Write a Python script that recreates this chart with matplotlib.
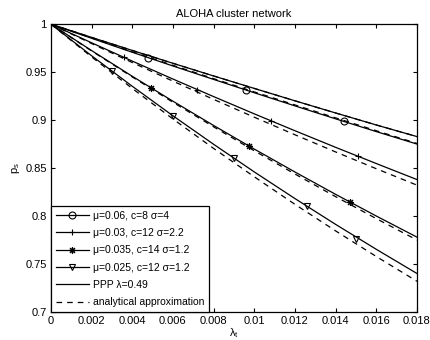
import matplotlib

matplotlib.use("Agg")
import matplotlib.pyplot as plt
from matplotlib.lines import Line2D

plt.rcParams["font.family"] = ["Liberation Sans", "DejaVu Sans"]
plt.rcParams["mathtext.fontset"] = "custom"
plt.rcParams["mathtext.rm"] = "Liberation Sans"
plt.rcParams["mathtext.it"] = "Liberation Sans"

# rejilla de lambda_t para las curvas
lam = [0.0, 0.002, 0.004, 0.006, 0.008, 0.010, 0.012, 0.014, 0.016, 0.018]

# PPP (solido y aproximacion, practicamente iguales)
ppp = [1.0, 0.9862, 0.9726, 0.9592, 0.9460, 0.9330, 0.9201, 0.9074, 0.8949, 0.8828]
ppp_aprox = [1.0, 0.9862, 0.9726, 0.9592, 0.9460, 0.9330, 0.9201, 0.9074, 0.8949, 0.8828]

# cluster: simulacion (solido) y aproximacion analitica (discontinua)
c1 = [1.0, 0.9853, 0.9707, 0.9564, 0.9424, 0.9285, 0.9148, 0.9013, 0.8880, 0.8750]
c1_aprox = [1.0, 0.9856, 0.9712, 0.9571, 0.9432, 0.9294, 0.9158, 0.9023, 0.8889, 0.8757]
c2 = [1.0, 0.9806, 0.9615, 0.9428, 0.9245, 0.9065, 0.8889, 0.8716, 0.8547, 0.8380]
c2_aprox = [1.0, 0.9798, 0.9600, 0.9406, 0.9216, 0.9030, 0.8847, 0.8668, 0.8493, 0.8322]
c3 = [1.0, 0.9725, 0.9457, 0.9197, 0.8944, 0.8698, 0.8459, 0.8226, 0.8000, 0.7780]
c3_aprox = [1.0, 0.9721, 0.9450, 0.9186, 0.8930, 0.8680, 0.8438, 0.8202, 0.7973, 0.7750]
c4 = [1.0, 0.9671, 0.9353, 0.9045, 0.8748, 0.8460, 0.8182, 0.7913, 0.7653, 0.7401]
c4_aprox = [1.0, 0.9659, 0.9330, 0.9012, 0.8705, 0.8409, 0.8122, 0.7845, 0.7578, 0.7320]

# marcadores sobre las curvas simuladas
c1_mx = [0.0048, 0.0096, 0.0144]
c1_my = [0.9650, 0.9313, 0.8987]
c2_mx = [0.0036, 0.0072, 0.0108, 0.0151]
c2_my = [0.9653, 0.9318, 0.8995, 0.8624]
c3_mx = [0.0049, 0.00975, 0.0147]
c3_my = [0.9338, 0.8727, 0.8146]
c4_mx = [0.003, 0.006, 0.009, 0.0126, 0.015]
c4_my = [0.9510, 0.9045, 0.8602, 0.8100, 0.7765]

etiquetas = [
    "\u03bc=0.06, c=8 \u03c3=4",
    "\u03bc=0.03, c=12 \u03c3=2.2",
    "\u03bc=0.035, c=14 \u03c3=1.2",
    "\u03bc=0.025, c=12 \u03c3=1.2",
    "PPP \u03bb=0.49",
    "analytical approximation",
]

xticks = [0, 0.002, 0.004, 0.006, 0.008, 0.010, 0.012, 0.014, 0.016, 0.018]
xtick_labels = ["0", "0.002", "0.004", "0.006", "0.008", "0.01", "0.012", "0.014", "0.016", "0.018"]
yticks = [0.7, 0.75, 0.8, 0.85, 0.9, 0.95, 1.0]
ytick_labels = ["0.7", "0.75", "0.8", "0.85", "0.9", "0.95", "1"]

LW = 0.9
MS = 5
asterisco = (8, 2, 0)

fig = plt.figure(figsize=(4.31, 3.40), dpi=100)
ax = fig.add_axes([0.118, 0.0824, 0.8495, 0.8466])

ax.plot(lam, ppp, "-", color="k", lw=LW)
ax.plot(lam, ppp_aprox, "--", color="k", lw=LW, dashes=(4.5, 4))
curvas = [
    (c1, c1_aprox, c1_mx, c1_my, "o"),
    (c2, c2_aprox, c2_mx, c2_my, "+"),
    (c3, c3_aprox, c3_mx, c3_my, asterisco),
    (c4, c4_aprox, c4_mx, c4_my, "v"),
]
handles = []
for sol, apr, mx, my, m in curvas:
    ax.plot(lam, sol, "-", color="k", lw=LW)
    ax.plot(lam, apr, "--", color="k", lw=LW, dashes=(4.5, 4))
    ax.plot(mx, my, ls="none", marker=m, ms=MS, mfc="none", mec="k", mew=0.8)
    handles.append(Line2D([], [], color="k", lw=LW, marker=m, ms=MS, mfc="none", mec="k", mew=0.8))
handles.append(Line2D([], [], color="k", lw=LW))
handles.append(Line2D([], [], color="k", lw=LW, ls="--", dashes=(4.5, 4)))

ax.set_xlim(0, 0.018)
ax.set_ylim(0.7, 1.0)
ax.set_xticks(xticks)
ax.set_xticklabels(xtick_labels)
ax.set_yticks(yticks)
ax.set_yticklabels(ytick_labels)
ax.tick_params(direction="in", top=True, right=True, labelsize=8, length=3, width=0.8, pad=3)
for s in ax.spines.values():
    s.set_linewidth(0.9)

ax.set_title("ALOHA cluster network", fontsize=8, pad=5)
ax.set_xlabel(r"$\lambda_\mathrm{t}$", fontsize=8, labelpad=0)
ax.set_ylabel(r"$\mathrm{p}_\mathrm{s}$", fontsize=8, labelpad=2)

leg = ax.legend(handles, etiquetas, loc="lower left", bbox_to_anchor=(0, 0), borderaxespad=0,
                fontsize=7.5, frameon=True, fancybox=False, edgecolor="k", framealpha=1,
                handlelength=3.2, handletextpad=0.4, labelspacing=0.7, borderpad=0.45)
leg.get_frame().set_linewidth(0.9)

fig.savefig("out.png", dpi=100)
